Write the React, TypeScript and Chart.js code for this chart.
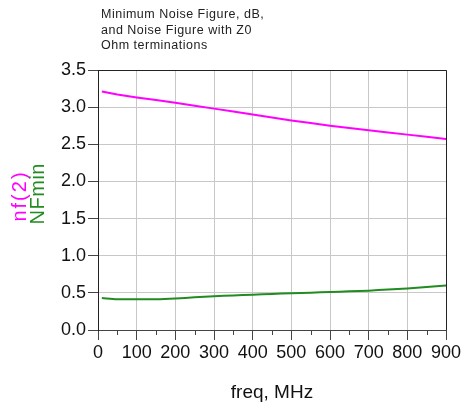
import React, { useEffect, useRef } from "react";
import { Chart, registerables } from "chart.js";

Chart.register(...registerables);

const freq = [10, 50, 100, 150, 200, 250, 300, 350, 400, 450, 500, 550, 600, 650, 700, 750, 800, 850, 900];
const nf2 = [3.21, 3.17, 3.13, 3.095, 3.06, 3.02, 2.98, 2.94, 2.9, 2.86, 2.82, 2.785, 2.75, 2.72, 2.69, 2.66, 2.63, 2.6, 2.57];
const nfmin = [0.43, 0.415, 0.413, 0.415, 0.425, 0.44, 0.455, 0.465, 0.475, 0.485, 0.495, 0.503, 0.512, 0.52, 0.53, 0.545, 0.56, 0.58, 0.6];
const titleLines = ["Minimum Noise Figure, dB,", "and Noise Figure with Z0", "Ohm terminations"];
const xTitle = "freq, MHz";
const yTitles = [
  { text: "nf(2)", color: "#ff00ff", x: 20, center: 197, spacing: 2 },
  { text: "NFmin", color: "#228b22", x: 38, center: 194, spacing: 0.5 },
];

const FONT = "'Liberation Sans', Arial, sans-serif";

const decorPlugin = {
  id: "decor",
  afterDraw(chart: any) {
    const { ctx, chartArea, scales } = chart;
    const { left, right, top, bottom } = chartArea;
    ctx.save();
    // frame
    ctx.strokeStyle = "#222";
    ctx.lineWidth = 1;
    ctx.beginPath();
    ctx.moveTo(left, top + 0.5);
    ctx.lineTo(right + 0.5, top + 0.5);
    ctx.lineTo(right + 0.5, bottom);
    ctx.stroke();
    // minor ticks on x
    ctx.strokeStyle = "#444";
    const xs = scales.x;
    for (let v = 50; v < 900; v += 100) {
      const px = Math.round(xs.getPixelForValue(v)) + 0.5;
      ctx.beginPath();
      ctx.moveTo(px, bottom);
      ctx.lineTo(px, bottom + 5);
      ctx.stroke();
    }
    // title
    ctx.fillStyle = "#222";
    ctx.font = `12.5px ${FONT}`;
    (ctx as any).letterSpacing = "0.5px";
    ctx.textBaseline = "alphabetic";
    ctx.textAlign = "left";
    titleLines.forEach((t, i) => ctx.fillText(t, 101, 18 + i * 15.5));
    (ctx as any).letterSpacing = "0px";
    // x title
    ctx.font = `19px ${FONT}`;
    ctx.textAlign = "center";
    ctx.fillStyle = "#111";
    ctx.fillText(xTitle, (left + right) / 2, 398);
    // y titles
    ctx.textBaseline = "middle";
    yTitles.forEach((yt) => {
      ctx.save();
      ctx.translate(yt.x, yt.center);
      ctx.rotate(-Math.PI / 2);
      (ctx as any).letterSpacing = `${yt.spacing}px`;
      ctx.fillStyle = yt.color;
      ctx.font = `20px ${FONT}`;
      ctx.fillText(yt.text, yt.spacing / 2, 0);
      ctx.restore();
    });
    ctx.restore();
  },
};

export default function App() {
  const ref = useRef<HTMLCanvasElement>(null);
  useEffect(() => {
    document.body.style.margin = "0";
    const chart = new Chart(ref.current!, {
      type: "line",
      data: {
        datasets: [
          {
            data: freq.map((f, i) => ({ x: f, y: nf2[i] })),
            borderColor: "#ff00ff",
            borderWidth: 2,
            pointRadius: 0,
            tension: 0,
          },
          {
            data: freq.map((f, i) => ({ x: f, y: nfmin[i] })),
            borderColor: "#228b22",
            borderWidth: 2,
            pointRadius: 0,
            tension: 0.3,
          },
        ],
      },
      options: {
        animation: false,
        responsive: false,
        layout: { padding: { top: 70, right: 19, left: 0, bottom: 0 } },
        plugins: { legend: { display: false }, title: { display: false }, tooltip: { enabled: false } },
        scales: {
          x: {
            type: "linear",
            min: 0,
            max: 900,
            afterFit: (s: any) => { s.height = 77; },
            ticks: { stepSize: 100, color: "#111", font: { family: FONT, size: 18 }, padding: 2, maxRotation: 0, autoSkip: false },
            grid: { color: "#c8c8c8", tickColor: "#444", tickLength: 10, lineWidth: 1 },
            border: { color: "#444", width: 1 },
          },
          y: {
            type: "linear",
            min: 0,
            max: 3.5,
            afterFit: (s: any) => { s.width = 98; },
            ticks: {
              stepSize: 0.5,
              color: "#111",
              font: { family: FONT, size: 18 },
              padding: 2,
              callback: (v: any) => Number(v).toFixed(1),
            },
            grid: { color: "#c8c8c8", tickColor: "#444", tickLength: 10, lineWidth: 1 },
            border: { color: "#222", width: 1 },
          },
        },
      },
      plugins: [decorPlugin],
    });
    return () => chart.destroy();
  }, []);
  return (
    <div style={{ width: 465, height: 407 }}>
      <canvas ref={ref} width={465} height={407} />
    </div>
  );
}
